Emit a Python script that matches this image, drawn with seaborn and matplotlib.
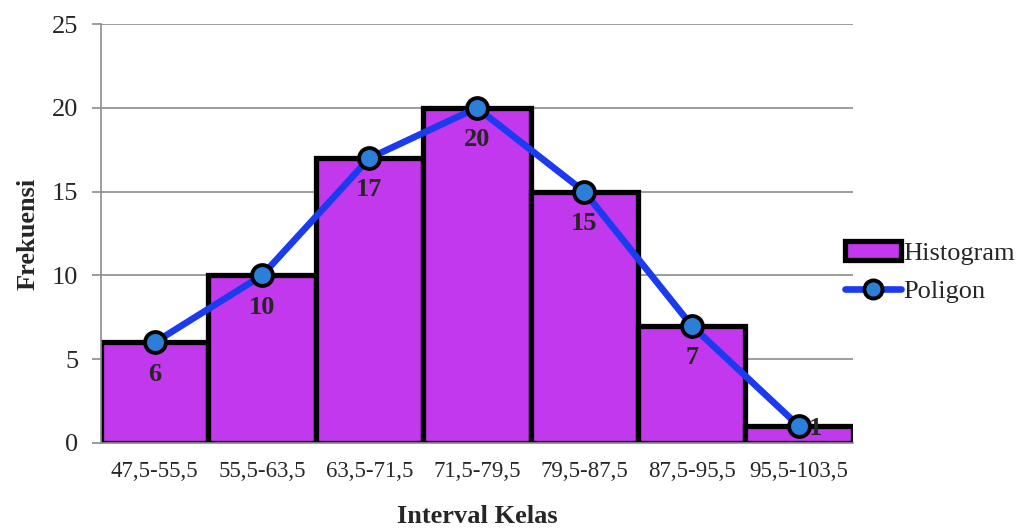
import matplotlib
matplotlib.use("Agg")
import matplotlib.pyplot as plt
import seaborn as sns
import numpy as np
import pandas as pd
from matplotlib.patches import Patch
from matplotlib.lines import Line2D

intervals = ["47,5-55,5", "55,5-63,5", "63,5-71,5", "71,5-79,5",
             "79,5-87,5", "87,5-95,5", "95,5-103,5"]
frekuensi = [6, 10, 17, 20, 15, 7, 1]

bar_color = "#C238EC"
line_color = "#1A3BF0"
marker_color = "#2B7FD9"
grid_color = "#8C8C8C"

sns.set_style("white")
plt.rcParams["font.family"] = ["Liberation Serif", "DejaVu Serif"]

df = pd.DataFrame({"Interval": intervals, "Frekuensi": frekuensi})

fig = plt.figure(figsize=(10.25, 5.28), dpi=100)
ax = fig.add_axes([0.0985, 0.161, 0.7335, 0.7935])

# Histogram bars, touching each other
sns.barplot(data=df, x="Interval", y="Frekuensi", color=bar_color,
            width=1.0, edgecolor="black", linewidth=3.8, saturation=1,
            ax=ax, zorder=2)

# Frequency polygon through the bar midpoints
pos = np.arange(len(intervals))
sns.lineplot(x=pos, y=frekuensi, ax=ax, color=line_color, linewidth=4.8,
             marker="o", markersize=15, markerfacecolor=marker_color,
             markeredgecolor="black", markeredgewidth=2.8, zorder=4)

for i, v in enumerate(frekuensi):
    if i == len(frekuensi) - 1:
        ax.annotate(str(v), (i, v), xytext=(7, 0), textcoords="offset points",
                    ha="left", va="center_baseline", fontsize=19,
                    fontweight="bold", zorder=5)
    else:
        ax.annotate(str(v), (i, v), xytext=(0, -21), textcoords="offset points",
                    ha="center", va="center_baseline", fontsize=19,
                    fontweight="bold", zorder=5)

ax.set_xlim(-0.5, len(intervals) - 0.5)
ax.set_ylim(0, 25)
ax.set_yticks([0, 5, 10, 15, 20, 25])
ax.yaxis.grid(True, color=grid_color, linewidth=1.2, zorder=0)
ax.set_axisbelow(True)

for s in ["top", "right"]:
    ax.spines[s].set_visible(False)
ax.spines["left"].set_color(grid_color)
ax.spines["left"].set_linewidth(1.2)
ax.spines["bottom"].set_color(grid_color)
ax.spines["bottom"].set_linewidth(1.2)

ax.set_xticks(pos)
ax.set_xticklabels(intervals, fontsize=16.5)
ax.tick_params(axis="x", length=0, pad=13)
ax.set_xticks(np.arange(-0.5, len(intervals)), minor=True)
ax.tick_params(axis="x", which="minor", length=6, color=grid_color, width=1.2)
ax.tick_params(axis="y", labelsize=19, length=6.5, color=grid_color, width=1.2,
               left=True, pad=10)

ax.set_xlabel("Interval Kelas", fontsize=19, fontweight="bold")
ax.set_ylabel("Frekuensi", fontsize=19, fontweight="bold")
ax.xaxis.set_label_coords(0.5, -0.175)
ax.xaxis.label.set_va("center")
ax.yaxis.set_label_coords(-0.097, 0.5)
ax.yaxis.label.set_va("center")

handles = [
    Patch(facecolor=bar_color, edgecolor="black", linewidth=3.8, label="Histogram"),
    Line2D([0], [0], color=line_color, linewidth=4.8, marker="o", markersize=13,
           markerfacecolor=marker_color, markeredgecolor="black",
           markeredgewidth=2.8, label="Poligon"),
]
ax.legend(handles=handles, loc="center left", bbox_to_anchor=(0.99, 0.408),
          frameon=False, fontsize=19, handlelength=2.1, handletextpad=0.1,
          labelspacing=0.55, borderpad=0, borderaxespad=0)

fig.savefig("out.png", dpi=100)
